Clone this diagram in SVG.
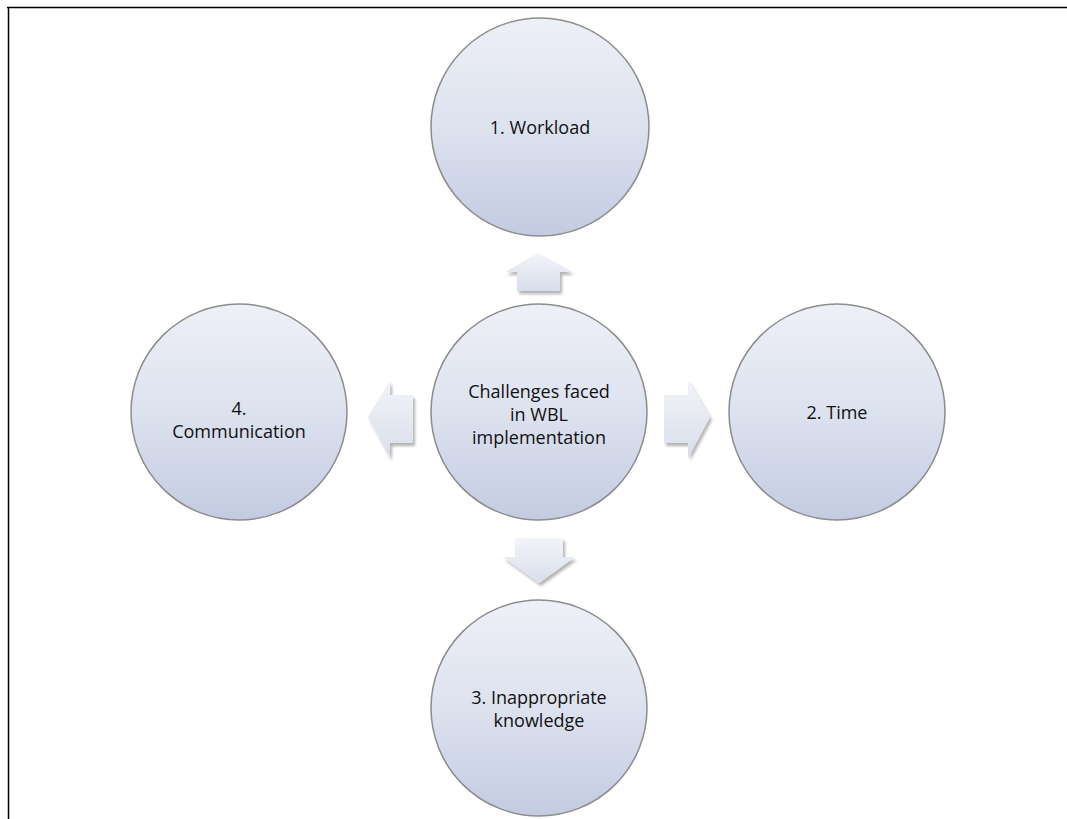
<svg xmlns="http://www.w3.org/2000/svg" width="1067" height="819" viewBox="0 0 1067 819">
<defs>
<linearGradient id="cg" x1="0" y1="0" x2="0" y2="1">
<stop offset="0" stop-color="#eef0f7"/>
<stop offset="0.5" stop-color="#dde2ef"/>
<stop offset="1" stop-color="#c3cbe1"/>
</linearGradient>
<linearGradient id="ag" x1="0" y1="0" x2="0" y2="1">
<stop offset="0" stop-color="#f2f4f9"/>
<stop offset="1" stop-color="#d9deeb"/>
</linearGradient>
<filter id="sh" x="-20%" y="-20%" width="150%" height="150%">
<feGaussianBlur in="SourceAlpha" stdDeviation="1.5"/>
<feOffset dx="2" dy="3" result="b"/>
<feComponentTransfer><feFuncA type="linear" slope="0.3"/></feComponentTransfer>
<feMerge><feMergeNode/><feMergeNode in="SourceGraphic"/></feMerge>
</filter>
</defs>
<style>
.c{fill:url(#cg);stroke:#8c8c8c;stroke-width:1.5;}
.a{fill:url(#ag);stroke:none;filter:url(#sh);}
text{font-family:"Open Sans","Liberation Sans",sans-serif;font-size:18px;fill:#111;text-anchor:middle;}
</style>
<rect width="1067" height="819" fill="#fff"/>
<line x1="7" y1="7.5" x2="1067" y2="7.5" stroke="#000" stroke-width="1.5"/>
<line x1="8.5" y1="7" x2="8.5" y2="819" stroke="#000" stroke-width="1.5"/>
<g id="connectors">
<polygon class="a" points="538,253 572,272 560,272 560,291 517,291 517,272 505,272"/>
<polygon class="a" points="664,395 688,395 688,380 710,417 688,458 688,443 664,443"/>
<polygon class="a" points="539,583 575,557 563,557 563,538 515,538 515,557 503,557"/>
<polygon class="a" points="368,417 390,380 390,395 413,395 413,443 390,443 390,458"/>
</g>
<g id="n-workload">
<circle class="c" cx="540" cy="127" r="109"/>
<text x="540" y="134">1. Workload</text>
</g>
<g id="n-center">
<circle class="c" cx="539" cy="412" r="108"/>
<text x="539" y="398">Challenges faced</text>
<text x="539" y="421">in WBL</text>
<text x="539" y="444">implementation</text>
</g>
<g id="n-time">
<circle class="c" cx="837" cy="412" r="108"/>
<text x="837" y="419">2. Time</text>
</g>
<g id="n-knowledge">
<circle class="c" cx="539" cy="708" r="108"/>
<text x="539" y="704">3. Inappropriate</text>
<text x="539" y="727">knowledge</text>
</g>
<g id="n-communication">
<circle class="c" cx="239" cy="412" r="108"/>
<text x="239" y="415">4.</text>
<text x="239" y="438">Communication</text>
</g>
</svg>
